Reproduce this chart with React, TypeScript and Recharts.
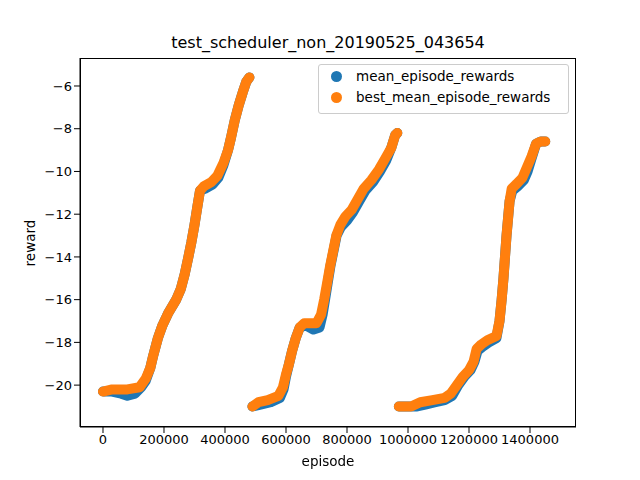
import React from "react";
import { ScatterChart, Scatter, XAxis, YAxis } from "recharts";

const xTicks = [0, 200000, 400000, 600000, 800000, 1000000, 1200000, 1400000];
const yTicks = [-20, -18, -16, -14, -12, -10, -8, -6];

// best_mean_episode_rewards, three runs
const bestRun1 = [
  [0, -20.3], [30000, -20.2], [80000, -20.2], [120000, -20.1], [140000, -19.7],
  [155000, -19.2], [165000, -18.6], [180000, -17.8], [195000, -17.2], [215000, -16.6],
  [240000, -16.0], [255000, -15.5], [268000, -14.8], [280000, -14.0], [290000, -13.3],
  [300000, -12.5], [310000, -11.6], [318000, -10.9], [330000, -10.7], [355000, -10.5],
  [375000, -10.2], [395000, -9.6], [410000, -9.0], [420000, -8.4], [432000, -7.6],
  [445000, -6.9], [458000, -6.3], [470000, -5.8], [480000, -5.6],
];
const meanRun1 = [
  [0, -20.3], [30000, -20.3], [60000, -20.4], [80000, -20.5], [105000, -20.4],
  [125000, -20.1], [140000, -19.8], [155000, -19.2], [165000, -18.6], [180000, -17.8],
  [195000, -17.2], [215000, -16.6], [240000, -16.0], [255000, -15.5], [268000, -14.8],
  [280000, -14.0], [290000, -13.3], [300000, -12.5], [310000, -11.6], [318000, -10.9],
  [335000, -10.8], [360000, -10.6], [378000, -10.3], [395000, -9.7], [410000, -9.0],
  [420000, -8.4], [432000, -7.6], [445000, -6.9], [458000, -6.3], [470000, -5.8],
  [480000, -5.6],
];
const bestRun2 = [
  [490000, -21.0], [510000, -20.8], [540000, -20.7], [575000, -20.5], [590000, -20.1],
  [600000, -19.5], [610000, -19.0], [620000, -18.4], [632000, -17.8], [645000, -17.3],
  [660000, -17.1], [700000, -17.1], [715000, -16.7], [725000, -16.0], [735000, -15.2],
  [745000, -14.4], [755000, -13.7], [765000, -13.0], [778000, -12.5], [795000, -12.1],
  [815000, -11.8], [835000, -11.3], [855000, -10.8], [880000, -10.4], [905000, -9.9],
  [925000, -9.4], [945000, -8.9], [958000, -8.3], [965000, -8.2],
];
const meanRun2 = [
  [490000, -21.0], [520000, -20.9], [550000, -20.8], [580000, -20.6], [592000, -20.2],
  [600000, -19.6], [610000, -19.0], [620000, -18.4], [632000, -17.8], [645000, -17.3],
  [665000, -17.2], [690000, -17.4], [710000, -17.3], [720000, -16.7], [728000, -16.0],
  [737000, -15.2], [746000, -14.4], [756000, -13.7], [766000, -13.0], [780000, -12.6],
  [800000, -12.3], [820000, -11.9], [840000, -11.4], [860000, -10.9], [885000, -10.5],
  [908000, -10.0], [928000, -9.5], [945000, -8.9], [958000, -8.3], [965000, -8.2],
];
const bestRun3 = [
  [970000, -21.0], [1010000, -21.0], [1040000, -20.8], [1080000, -20.7], [1120000, -20.6],
  [1140000, -20.4], [1160000, -20.0], [1180000, -19.6], [1200000, -19.3], [1215000, -18.9],
  [1225000, -18.3], [1240000, -18.1], [1260000, -17.9], [1290000, -17.7], [1300000, -17.0],
  [1307000, -16.0], [1313000, -15.0], [1318000, -14.0], [1323000, -13.0], [1328000, -12.2],
  [1333000, -11.4], [1340000, -10.8], [1355000, -10.6], [1375000, -10.3], [1390000, -9.8],
  [1405000, -9.3], [1420000, -8.7], [1435000, -8.6], [1450000, -8.6],
];
const meanRun3 = [
  [970000, -21.0], [1000000, -21.0], [1030000, -21.0], [1060000, -20.9], [1090000, -20.8],
  [1120000, -20.7], [1145000, -20.5], [1165000, -20.0], [1185000, -19.6], [1205000, -19.3],
  [1218000, -18.9], [1228000, -18.4], [1245000, -18.2], [1265000, -18.0], [1290000, -17.8],
  [1300000, -17.0], [1307000, -16.0], [1313000, -15.0], [1318000, -14.0], [1323000, -13.0],
  [1328000, -12.2], [1333000, -11.4], [1342000, -10.9], [1360000, -10.7], [1380000, -10.4],
  [1392000, -10.0], [1405000, -9.4], [1420000, -8.7], [1435000, -8.6], [1450000, -8.6],
];

const toPts = (arr: number[][]) => arr.map(([x, y]) => ({ x, y }));

const BLUE = "#1f77b4";
const ORANGE = "#ff7f0e";
const font = "DejaVu Sans";

const lineStyle = (c: string) => ({
  stroke: c,
  strokeWidth: 10,
  strokeLinecap: "round" as const,
  strokeLinejoin: "round" as const,
});

export default function App() {
  const runs = [
    [meanRun1, bestRun1],
    [meanRun2, bestRun2],
    [meanRun3, bestRun3],
  ];
  return (
    <div style={{ position: "fixed", left: 0, top: 0, width: 640, height: 480, background: "#fff", fontFamily: font }}>
      <div style={{ position: "absolute", top: 33, width: 656, textAlign: "center", fontSize: 16 }}>
        test_scheduler_non_20190525_043654
      </div>
      <ScatterChart width={640} height={480} margin={{ top: 58, right: 64, bottom: 23, left: 20 }}>
        <XAxis
          type="number"
          dataKey="x"
          domain={[-75400, 1550800]}
          ticks={xTicks}
          height={30}
          tick={{ fill: "#000", fontSize: 13, fontFamily: font }}
          tickLine={{ stroke: "#000" }}
          axisLine={{ stroke: "#000" }}
          allowDataOverflow
        />
        <YAxis
          type="number"
          dataKey="y"
          domain={[-21.96, -4.69]}
          ticks={yTicks}
          width={60}
          tickFormatter={(v: number) => String(v).replace("-", "\u2212")}
          tick={{ fill: "#000", fontSize: 13, fontFamily: font }}
          tickLine={{ stroke: "#000" }}
          axisLine={{ stroke: "#000" }}
          allowDataOverflow
        />
        {runs.map(([m], i) => (
          <Scatter key={"m" + i} data={toPts(m)} fill={BLUE} line={lineStyle(BLUE)} shape={() => null} isAnimationActive={false} />
        ))}
        {runs.map(([, b], i) => (
          <Scatter key={"b" + i} data={toPts(b)} fill={ORANGE} line={lineStyle(ORANGE)} shape={() => null} isAnimationActive={false} />
        ))}
      </ScatterChart>
      <div style={{ position: "absolute", left: 80, top: 58, width: 496, height: 369, border: "1px solid #000", boxSizing: "border-box", pointerEvents: "none" }} />
      <div style={{ position: "absolute", top: 453, width: 640, left: 8, textAlign: "center", fontSize: 13.5 }}>episode</div>
      <div style={{ position: "absolute", left: 30, top: 243, fontSize: 13.5, transform: "translate(-50%,-50%) rotate(-90deg)" }}>reward</div>
      <div style={{ position: "absolute", left: 318, top: 64, width: 251, height: 50, border: "1px solid #ccc", borderRadius: 3, background: "rgba(255,255,255,0.8)", fontSize: 13.5, boxSizing: "border-box" }}>
        {[["mean_episode_rewards", BLUE], ["best_mean_episode_rewards", ORANGE]].map(([t, c], i) => (
          <div key={t} style={{ position: "absolute", left: 12, top: 3 + i * 21, display: "flex", alignItems: "center" }}>
            <span style={{ width: 11, height: 11, borderRadius: "50%", background: c, display: "inline-block", marginRight: 14 }} />
            {t}
          </div>
        ))}
      </div>
    </div>
  );
}
